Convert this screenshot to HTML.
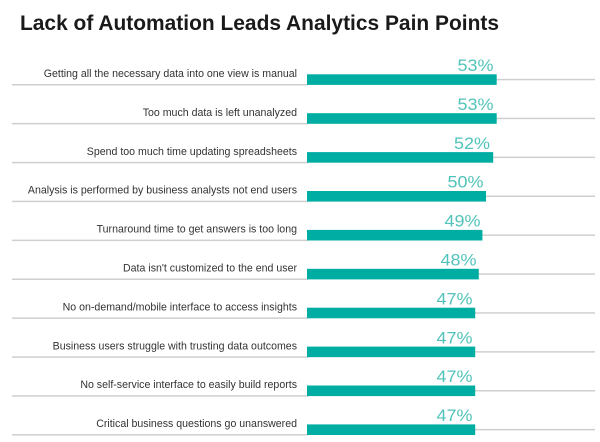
<!DOCTYPE html>
<html>
<head>
<meta charset="utf-8">
<style>
  html,body{margin:0;padding:0;background:#fff;}
  svg{display:block;}
</style>
</head>
<body>
<svg width="600" height="442" viewBox="0 0 600 442" xmlns="http://www.w3.org/2000/svg">
  <rect width="600" height="442" fill="#ffffff"/>
  <text x="20" y="30" font-family="Liberation Sans, sans-serif" font-weight="bold" font-size="21" fill="#1a1a1a" textLength="479" lengthAdjust="spacingAndGlyphs">Lack of Automation Leads Analytics Pain Points</text>

  <g font-family="Liberation Sans, sans-serif">
  <!-- Row template: top = 74.3 + 38.9*i -->
  <!-- row 0 53% -->
  <g transform="translate(0,0)">
    <rect x="12" y="84" width="296" height="1.5" fill="#cfcfcf"/>
    <rect x="496" y="78.8" width="99" height="1.5" fill="#cfcfcf"/>
    <rect x="307" y="74.3" width="189.7" height="10.6" fill="#00ada3"/>
    <text x="297" y="77" font-size="10.6" fill="#333" text-anchor="end">Getting all the necessary data into one view is manual</text>
    <text x="493.5" y="71" font-size="16.5" fill="#52c3ba" text-anchor="end" textLength="36" lengthAdjust="spacingAndGlyphs">53%</text>
  </g>
  <!-- row 1 53% -->
  <g transform="translate(0,38.9)">
    <rect x="12" y="84" width="296" height="1.5" fill="#cfcfcf"/>
    <rect x="496" y="78.8" width="99" height="1.5" fill="#cfcfcf"/>
    <rect x="307" y="74.3" width="189.7" height="10.6" fill="#00ada3"/>
    <text x="297" y="77" font-size="10.6" fill="#333" text-anchor="end">Too much data is left unanalyzed</text>
    <text x="493.5" y="71" font-size="16.5" fill="#52c3ba" text-anchor="end" textLength="36" lengthAdjust="spacingAndGlyphs">53%</text>
  </g>
  <!-- row 2 52% -->
  <g transform="translate(0,77.8)">
    <rect x="12" y="84" width="296" height="1.5" fill="#cfcfcf"/>
    <rect x="492" y="78.8" width="103" height="1.5" fill="#cfcfcf"/>
    <rect x="307" y="74.3" width="186.2" height="10.6" fill="#00ada3"/>
    <text x="297" y="77" font-size="10.6" fill="#333" text-anchor="end">Spend too much time updating spreadsheets</text>
    <text x="490" y="71" font-size="16.5" fill="#52c3ba" text-anchor="end" textLength="36" lengthAdjust="spacingAndGlyphs">52%</text>
  </g>
  <!-- row 3 50% -->
  <g transform="translate(0,116.7)">
    <rect x="12" y="84" width="296" height="1.5" fill="#cfcfcf"/>
    <rect x="485" y="78.8" width="110" height="1.5" fill="#cfcfcf"/>
    <rect x="307" y="74.3" width="179" height="10.6" fill="#00ada3"/>
    <text x="297" y="77" font-size="10.6" fill="#333" text-anchor="end">Analysis is performed by business analysts not end users</text>
    <text x="483.5" y="71" font-size="16.5" fill="#52c3ba" text-anchor="end" textLength="36" lengthAdjust="spacingAndGlyphs">50%</text>
  </g>
  <!-- row 4 49% -->
  <g transform="translate(0,155.6)">
    <rect x="12" y="84" width="296" height="1.5" fill="#cfcfcf"/>
    <rect x="481" y="78.8" width="114" height="1.5" fill="#cfcfcf"/>
    <rect x="307" y="74.3" width="175.4" height="10.6" fill="#00ada3"/>
    <text x="297" y="77" font-size="10.6" fill="#333" text-anchor="end">Turnaround time to get answers is too long</text>
    <text x="480.5" y="71" font-size="16.5" fill="#52c3ba" text-anchor="end" textLength="36" lengthAdjust="spacingAndGlyphs">49%</text>
  </g>
  <!-- row 5 48% -->
  <g transform="translate(0,194.5)">
    <rect x="12" y="84" width="296" height="1.5" fill="#cfcfcf"/>
    <rect x="478" y="78.8" width="117" height="1.5" fill="#cfcfcf"/>
    <rect x="307" y="74.3" width="171.8" height="10.6" fill="#00ada3"/>
    <text x="297" y="77" font-size="10.6" fill="#333" text-anchor="end">Data isn't customized to the end user</text>
    <text x="476.5" y="71" font-size="16.5" fill="#52c3ba" text-anchor="end" textLength="36" lengthAdjust="spacingAndGlyphs">48%</text>
  </g>
  <!-- row 6 47% -->
  <g transform="translate(0,233.4)">
    <rect x="12" y="84" width="296" height="1.5" fill="#cfcfcf"/>
    <rect x="474" y="78.8" width="121" height="1.5" fill="#cfcfcf"/>
    <rect x="307" y="74.3" width="168.2" height="10.6" fill="#00ada3"/>
    <text x="297" y="77" font-size="10.6" fill="#333" text-anchor="end">No on-demand/mobile interface to access insights</text>
    <text x="472.5" y="71" font-size="16.5" fill="#52c3ba" text-anchor="end" textLength="36" lengthAdjust="spacingAndGlyphs">47%</text>
  </g>
  <!-- row 7 47% -->
  <g transform="translate(0,272.3)">
    <rect x="12" y="84" width="296" height="1.5" fill="#cfcfcf"/>
    <rect x="474" y="78.8" width="121" height="1.5" fill="#cfcfcf"/>
    <rect x="307" y="74.3" width="168.2" height="10.6" fill="#00ada3"/>
    <text x="297" y="77" font-size="10.6" fill="#333" text-anchor="end">Business users struggle with trusting data outcomes</text>
    <text x="472.5" y="71" font-size="16.5" fill="#52c3ba" text-anchor="end" textLength="36" lengthAdjust="spacingAndGlyphs">47%</text>
  </g>
  <!-- row 8 47% -->
  <g transform="translate(0,311.2)">
    <rect x="12" y="84" width="296" height="1.5" fill="#cfcfcf"/>
    <rect x="474" y="78.8" width="121" height="1.5" fill="#cfcfcf"/>
    <rect x="307" y="74.3" width="168.2" height="10.6" fill="#00ada3"/>
    <text x="297" y="77" font-size="10.6" fill="#333" text-anchor="end">No self-service interface to easily build reports</text>
    <text x="472.5" y="71" font-size="16.5" fill="#52c3ba" text-anchor="end" textLength="36" lengthAdjust="spacingAndGlyphs">47%</text>
  </g>
  <!-- row 9 47% -->
  <g transform="translate(0,350.1)">
    <rect x="12" y="84" width="296" height="1.5" fill="#cfcfcf"/>
    <rect x="474" y="78.8" width="121" height="1.5" fill="#cfcfcf"/>
    <rect x="307" y="74.3" width="168.2" height="10.6" fill="#00ada3"/>
    <text x="297" y="77" font-size="10.6" fill="#333" text-anchor="end">Critical business questions go unanswered</text>
    <text x="472.5" y="71" font-size="16.5" fill="#52c3ba" text-anchor="end" textLength="36" lengthAdjust="spacingAndGlyphs">47%</text>
  </g>
  </g>
</svg>
</body>
</html>
